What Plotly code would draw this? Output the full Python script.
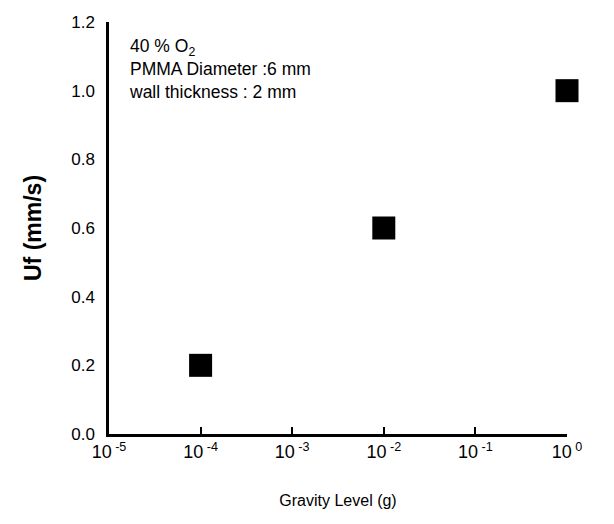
import plotly.graph_objects as go

gravity = [1e-4, 1e-2, 1e0]
uf = [0.2, 0.6, 1.0]
x_tickvals = [1e-5, 1e-4, 1e-3, 1e-2, 1e-1, 1e0]
x_ticktext = ["10<sup> -5</sup>", "10<sup> -4</sup>", "10<sup> -3</sup>", "10<sup> -2</sup>", "10<sup> -1</sup>", "10<sup> 0</sup>"]
y_tickvals = [0.0, 0.2, 0.4, 0.6, 0.8, 1.0, 1.2]
y_ticktext = ["0.0", "0.2", "0.4", "0.6", "0.8", "1.0", "1.2"]

fig = go.Figure()
fig.add_trace(go.Scatter(
    x=gravity, y=uf, mode="markers",
    marker=dict(symbol="square", size=23, color="black"),
    cliponaxis=False, showlegend=False,
))

fig.update_layout(
    width=606, height=516,
    paper_bgcolor="white", plot_bgcolor="white",
    margin=dict(l=101, r=47, t=14, b=90),
    font=dict(family="Liberation Sans, Arial", color="black", size=16),
    xaxis=dict(
        type="log", range=[-5, 0], automargin=False,
        tickvals=x_tickvals, ticktext=x_ticktext,
        ticks="inside", ticklen=7, tickwidth=1.5, tickcolor="black",
        showline=True, linecolor="black", linewidth=2.5,
        showgrid=False, zeroline=False,
        tickfont=dict(size=18),
        title=dict(text="Gravity Level (g)", font=dict(size=16), standoff=34),
    ),
    yaxis=dict(
        range=[0, 1.2], automargin=False,
        tickvals=y_tickvals, ticktext=y_ticktext,
        ticks="", showline=True, linecolor="black", linewidth=2.5,
        showgrid=False, zeroline=False,
        tickfont=dict(size=17), ticklabelstandoff=8,
        title=dict(text="<b>Uf (mm/s)</b>", font=dict(size=23), standoff=24),
    ),
    annotations=[
        dict(
            x=0.04, y=0.97, xref="paper", yref="paper",
            xanchor="left", yanchor="top", align="left", showarrow=False,
            text="40 % O<sub>2</sub><br>PMMA Diameter :6 mm<br>wall thickness : 2 mm",
            font=dict(size=17.5),
        )
    ],
)

fig.write_html("out.html")
